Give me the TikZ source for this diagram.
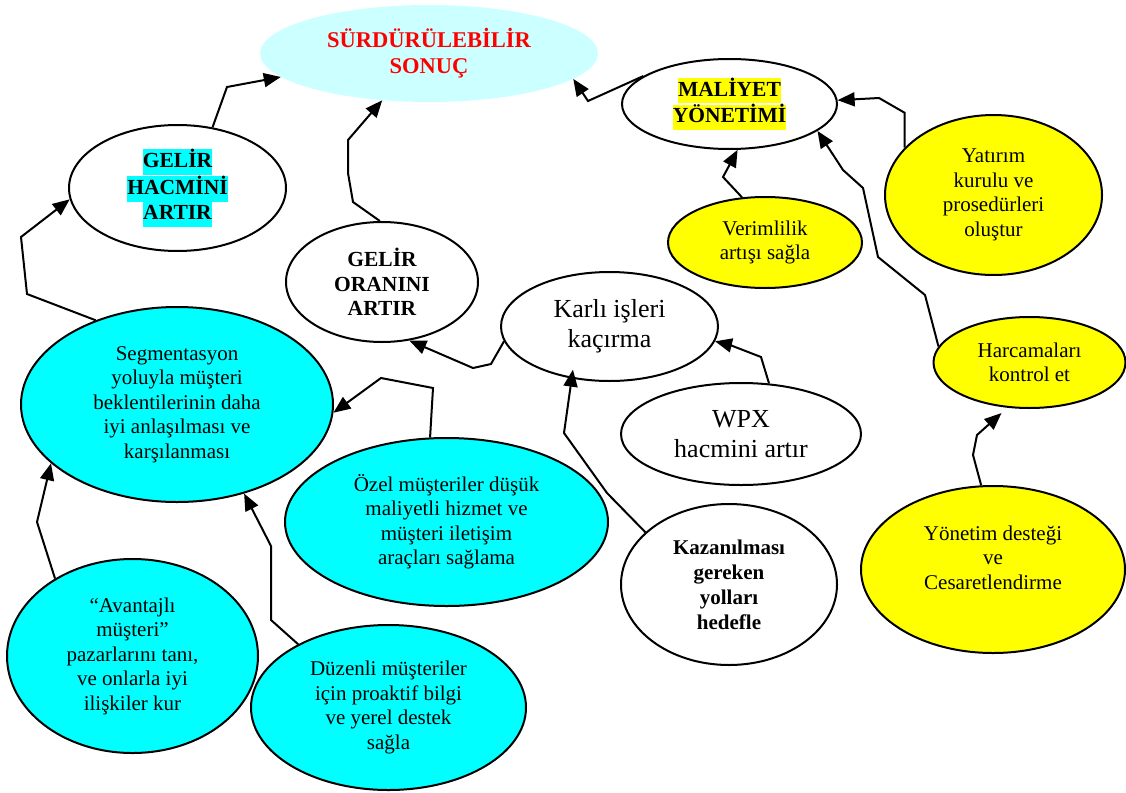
\documentclass[tikz,border=0pt]{standalone}
\usepackage{fontspec}
\setmainfont{Liberation Serif}
\usetikzlibrary{shapes.geometric,arrows.meta}

\definecolor{aqua}{HTML}{00FFFF}
\definecolor{paleaqua}{HTML}{CCFFFF}
\definecolor{lemon}{HTML}{FFFF00}
\newcommand{\hilite}[2]{{\setlength{\fboxsep}{0pt}\colorbox{#1}{\strut #2}}}

\begin{document}
\begin{tikzpicture}[x=1pt,y=-1pt,
    bubble/.style={ellipse,draw,line width=2pt,inner sep=0pt,align=center,
        font=\fontsize{21}{24.5}\selectfont},
    rad/.style 2 args={minimum width={2*#1pt},minimum height={2*#2pt}},
    cyanbubble/.style={bubble,fill=aqua},
    yellowbubble/.style={bubble,fill=lemon},
    boldtext/.style={font=\fontsize{21.5}{24.5}\selectfont\bfseries},
    bigtext/.style={font=\fontsize{26}{30}\selectfont},
    arr/.style={line width=2pt,-{Triangle[length=17pt,width=14pt]}}]
    \useasboundingbox (0,0) rectangle (1126,792);

    \node[ellipse,fill=paleaqua,inner sep=0pt,align=center,rad={169}{48.5},text=red,
        font=\fontsize{22.5}{26}\selectfont\bfseries] (sonuc) at (429,53.5)
        {SÜRDÜRÜLEBİLİR\\SONUÇ};
    \node[bubble,boldtext,rad={107.5}{45}] (maliyet) at (729.5,104)
        {\hilite{lemon}{MALİYET}\\\hilite{lemon}{YÖNETİMİ}};
    \node[bubble,boldtext,rad={108.5}{63}] (hacmi) at (177.5,188)
        {\hilite{aqua}{GELİR}\\\hilite{aqua}{HACMİNİ}\\\hilite{aqua}{ARTIR}};
    \node[bubble,boldtext,rad={96}{60}] (orani) at (382,282) {GELİR\\ORANINI\\ARTIR};
    \node[bubble,bigtext,rad={108.5}{54.5}] (karli) at (609.5,326.5) {Karlı işleri\\kaçırma};
    \node[yellowbubble,rad={97}{45.5}] (verim) at (765,242.5) {Verimlilik\\artışı sağla};
    \node[yellowbubble,rad={108.5}{80}] (yatirim) at (993.5,195)
        {Yatırım\\kurulu ve\\prosedürleri\\oluştur};
    \node[yellowbubble,rad={96}{45.5}] (harca) at (1029.5,362.5) {Harcamaları\\kontrol et};
    \node[bubble,bigtext,rad={120}{51}] (wpx) at (741,434) {WPX\\hacmini artır};
    \node[cyanbubble,rad={156}{97.5}] (segment) at (177,404.5)
        {Segmentasyon\\yoluyla müşteri\\beklentilerinin daha\\iyi anlaşılması ve\\karşılanması};
    \node[cyanbubble,rad={161.5}{84}] (ozel) at (446.5,522)
        {Özel müşteriler düşük\\maliyetli hizmet ve\\müşteri iletişim\\araçları sağlama};
    \node[bubble,font=\fontsize{21}{25}\selectfont\bfseries,rad={108}{80.5}] (kazan) at (729,584.5)
        {Kazanılması\\gereken\\yolları\\hedefle};
    \node[yellowbubble,rad={132}{83.5}] (yonetim) at (993,569.5)
        {Yönetim desteği\\ve\\Cesaretlendirme\\~};
    \node[cyanbubble,rad={125.5}{97}] (avant) at (132.5,656)
        {“Avantajlı\\müşteri”\\pazarlarını tanı,\\ve onlarla iyi\\ilişkiler kur};
    \node[cyanbubble,rad={137.5}{82.5}] (duzen) at (388.5,707.5)
        {Düzenli müşteriler\\için proaktif bilgi\\ve yerel destek\\sağla};

    \draw[arr] (hacmi.60) -- (227,87) -- (sonuc.189);
    \draw[arr] (orani.92) -- (353,202) -- (348,173) -- (348,140) -- (sonuc.225);
    \draw[arr] (maliyet.162) -- (588,101) -- (sonuc.350);
    \draw[arr] (verim.117) -- (723,177) -- (maliyet.280);
    \draw[arr] (yatirim.152) -- ++(0,-35) -- (879,98) -- (maliyet.2);
    \draw[arr] (harca.170) -- (925,295) -- (878,257) -- (863,188) -- (843,170) -- (maliyet.343);
    \draw[arr,shorten >=8pt] (yonetim.98) -- (973,455) -- (977,435) -- (harca.244);
    \draw[arr] (wpx.61) -- (761,357) -- (730,345) -- (karli.352);
    \draw[arr,shorten >=-9pt] (kazan.148) -- (607,493) -- (564,433) -- (karli.234);
    \draw[arr] (karli.188) -- (491,364) -- (473,368) -- (orani.295);
    \draw[arr] (ozel.101) -- (433,388) -- (381,378) -- (segment.357);
    \draw[arr] (avant.135) -- (37,522) -- (segment.205);
    \draw[arr] (duzen.145) -- (271,620) -- (271,546) -- (segment.307);
    \draw[arr] (segment.134) -- (27,294) -- (21,237) -- (hacmi.186);
\end{tikzpicture}
\end{document}
